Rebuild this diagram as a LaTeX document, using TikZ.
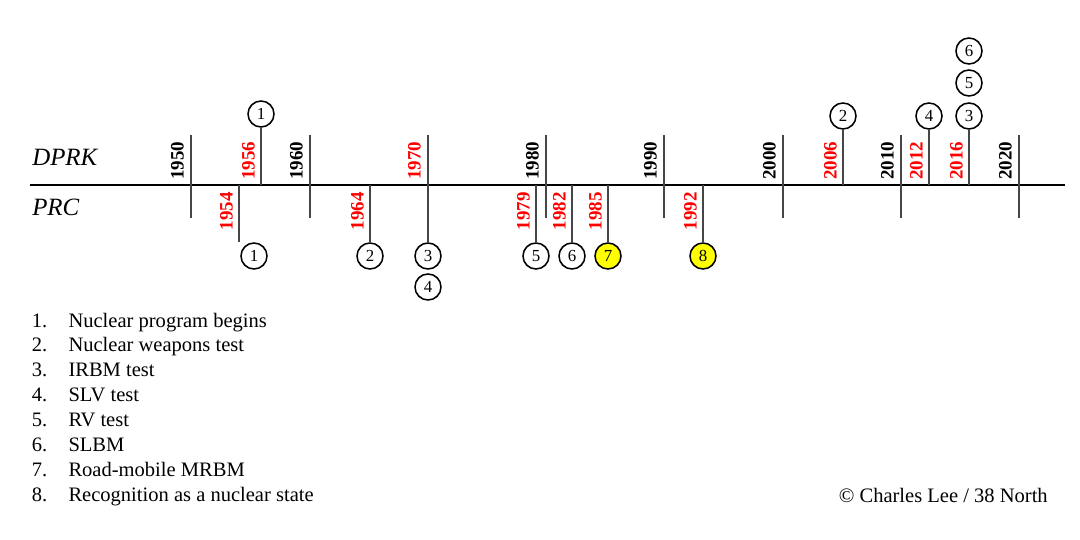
\documentclass[tikz,border=0pt]{standalone}
\usepackage{fontspec}
\setmainfont{Liberation Serif}
\usepackage{tikz}
\usetikzlibrary{positioning, calc}
\definecolor{yearRed}{RGB}{255, 0, 0}
\definecolor{markYellow}{RGB}{255, 255, 0}
\definecolor{tickGray}{RGB}{70, 70, 70}
\tikzset{
  axisline/.style={line width=1.5pt, black},
  tickline/.style={line width=0.8pt, tickGray},
  event/.style={circle, draw=black, line width=1.1pt, minimum size=0.65cm, inner sep=0pt, fill=white, font=\fontsize{12}{13}\selectfont},
  eventhi/.style={event, fill=markYellow},
  yearlbl/.style={rotate=90, inner sep=0pt, font=\fontsize{13.5}{15}\selectfont\bfseries},
  yearup/.style={yearlbl, anchor=south west},
  yeardown/.style={yearlbl, anchor=south east, text=yearRed},
  country/.style={anchor=base west, inner sep=0pt, font=\fontsize{17.7}{20}\selectfont\itshape},
  plaintext/.style={inner sep=0pt, font=\fontsize{14.6}{17.7}\selectfont}
}
\begin{document}
\begin{tikzpicture}[x=0.025cm, y=-0.025cm]
    \useasboundingbox (0,0) rectangle (1080,540);

    % Eje principal
    \coordinate (axL) at (30,185);
    \coordinate (axR) at (1065,185);
    \draw[axisline] (axL) -- (axR);

    % Nombres de los paises
    \node[country] (dprk) at (32,165) {DPRK};
    \node[country] (prc) at (32,215) {PRC};

    % Decadas
    \foreach \yr/\x/\c in {1950/191/black, 1960/310/black, 1970/428/yearRed, 1980/546/black,
                           1990/664/black, 2000/783/black, 2010/901/black, 2020/1019/black} {
        \coordinate (top\yr) at (\x,135);
        \coordinate (bot\yr) at (\x,218);
        \draw[tickline] (top\yr) -- (bot\yr);
        \node[yearup, text=\c] (y\yr) at (\x-7,180) {\yr};
    }

    % Eventos DPRK (arriba del eje)
    \foreach \yr/\x in {1956/261, 2006/843, 2012/929, 2016/969} {
        \coordinate (a\yr) at (\x,185);
        \node[yearup, text=yearRed] (y\yr) at (\x-6,180) {\yr};
    }
    \node[event] (d1) at (261,114) {1};
    \node[event] (d2) at (843,116) {2};
    \node[event] (d4) at (929,116) {4};
    \node[event] (d3) at (969,116) {3};
    \node[event] (d5) at (969,83) {5};
    \node[event] (d6) at (969,51) {6};
    \draw[tickline] (d1) -- (a1956);
    \draw[tickline] (d2) -- (a2006);
    \draw[tickline] (d4) -- (a2012);
    \draw[tickline] (d3) -- (a2016);

    % Eventos PRC (debajo del eje)
    \foreach \yr/\x in {1954/239, 1964/370, 1979/536, 1982/572, 1985/608, 1992/703} {
        \coordinate (a\yr) at (\x,185);
        \node[yeardown] (y\yr) at (\x-6,192) {\yr};
    }
    \coordinate (a1970) at (428,185);
    \node[event] (p1) at (254,256) {1};
    \node[event] (p2) at (370,256) {2};
    \node[event] (p3) at (428,256) {3};
    \node[event] (p4) at (428,287) {4};
    \node[event] (p5) at (536,256) {5};
    \node[event] (p6) at (572,256) {6};
    \node[eventhi] (p7) at (608,256) {7};
    \node[eventhi] (p8) at (703,256) {8};
    \draw[tickline] (a1954) -- (a1954 |- p1.north);
    \draw[tickline] (a1964) -- (p2);
    \draw[tickline] (a1970) -- (p3);
    \draw[tickline] (a1979) -- (p5);
    \draw[tickline] (a1982) -- (p6);
    \draw[tickline] (a1985) -- (p7);
    \draw[tickline] (a1992) -- (p8);

    % Leyenda
    \node[plaintext, anchor=base west] (legend) at (31.7,327) {
        \begin{tabular}[t]{@{}p{26pt}@{}l@{}}
            1. & Nuclear program begins \\
            2. & Nuclear weapons test \\
            3. & IRBM test \\
            4. & SLV test \\
            5. & RV test \\
            6. & SLBM \\
            7. & Road-mobile MRBM \\
            8. & Recognition as a nuclear state \\
        \end{tabular}
    };

    % Texto del autor
    \node[plaintext, anchor=base east] (credit) at (1048,502) {© Charles Lee / 38 North};
\end{tikzpicture}
\end{document}
